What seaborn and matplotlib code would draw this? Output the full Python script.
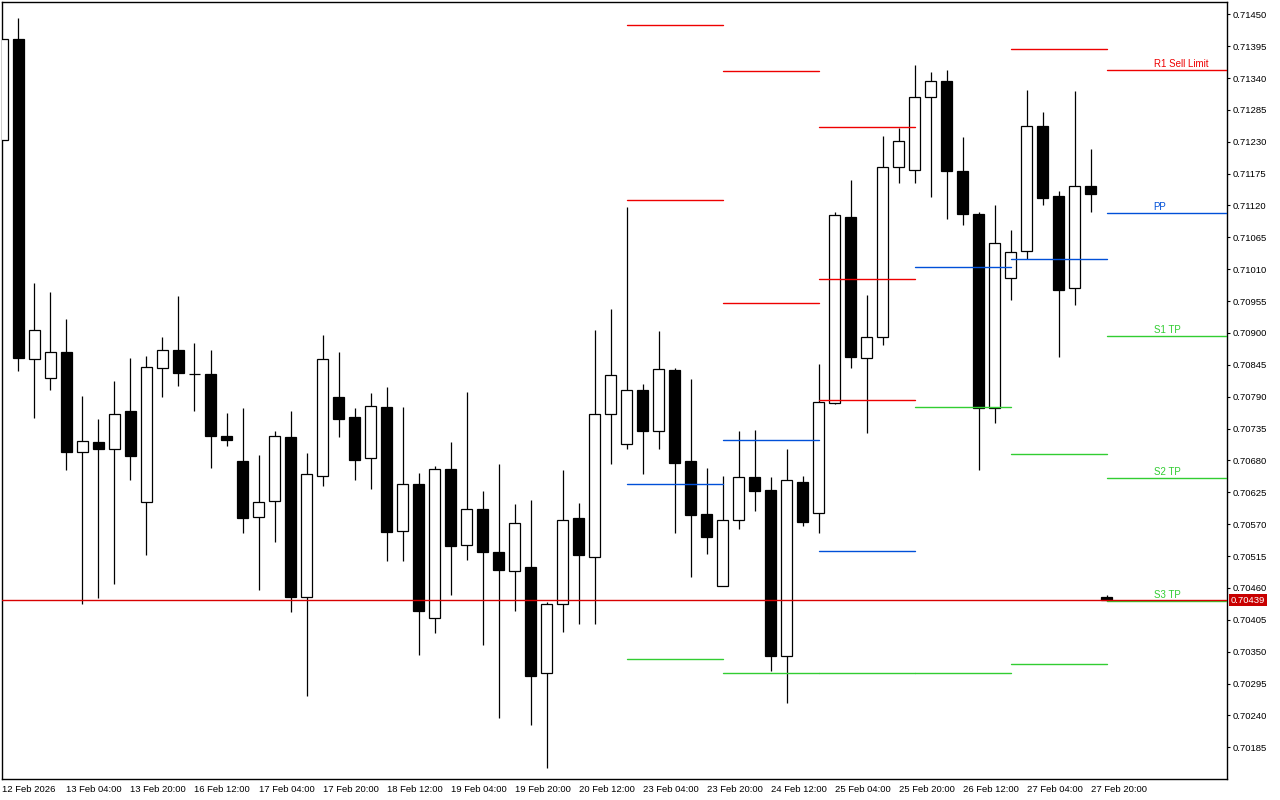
import pandas as pd
import matplotlib
matplotlib.use("Agg")
import matplotlib.pyplot as plt
import matplotlib.transforms as mtrans
import seaborn as sns

# 4H candles
opens = [0.71233, 0.71407, 0.70855, 0.70823, 0.70867, 0.70694, 0.70712, 0.70699, 0.70765, 0.70609,
         0.70840, 0.70871, 0.70830, 0.70829, 0.70722, 0.70679, 0.70582, 0.70610, 0.70720, 0.70444,
         0.70654, 0.70789, 0.70755, 0.70684, 0.70772, 0.70558, 0.70639, 0.70408, 0.70665, 0.70534,
         0.70596, 0.70522, 0.70490, 0.70496, 0.70313, 0.70432, 0.70581, 0.70514, 0.70760, 0.70708,
         0.70802, 0.70730, 0.70836, 0.70679, 0.70588, 0.70464, 0.70577, 0.70651, 0.70629, 0.70342,
         0.70643, 0.70589, 0.70779, 0.71101, 0.70856, 0.70893, 0.71186, 0.71181, 0.71308, 0.71334,
         0.71179, 0.71105, 0.70770, 0.70994, 0.71041, 0.71257, 0.71136, 0.70977, 0.71153, 0.70444]
highs = [0.71407, 0.71443, 0.70986, 0.70971, 0.70924, 0.70791, 0.70752, 0.70817, 0.70857, 0.70860,
         0.70893, 0.70963, 0.70883, 0.70871, 0.70762, 0.70771, 0.70689, 0.70731, 0.70765, 0.70693,
         0.70897, 0.70867, 0.70771, 0.70796, 0.70807, 0.70773, 0.70659, 0.70670, 0.70711, 0.70798,
         0.70627, 0.70674, 0.70605, 0.70612, 0.70436, 0.70664, 0.70607, 0.70905, 0.70941, 0.71117,
         0.70812, 0.70903, 0.70840, 0.70821, 0.70667, 0.70653, 0.70731, 0.70733, 0.70651, 0.70700,
         0.70654, 0.70846, 0.71109, 0.71164, 0.70966, 0.71240, 0.71254, 0.71363, 0.71350, 0.71354,
         0.71238, 0.71109, 0.71121, 0.71078, 0.71319, 0.71281, 0.71145, 0.71317, 0.71218, 0.70448]
lows = [0.71233, 0.70835, 0.70754, 0.70802, 0.70664, 0.70432, 0.70443, 0.70466, 0.70647, 0.70517,
        0.70790, 0.70809, 0.70766, 0.70667, 0.70705, 0.70554, 0.70457, 0.70540, 0.70419, 0.70274,
        0.70636, 0.70721, 0.70647, 0.70631, 0.70507, 0.70507, 0.70345, 0.70383, 0.70448, 0.70509,
        0.70362, 0.70236, 0.70421, 0.70224, 0.70150, 0.70384, 0.70398, 0.70397, 0.70674, 0.70700,
        0.70657, 0.70700, 0.70554, 0.70479, 0.70519, 0.70464, 0.70562, 0.70593, 0.70317, 0.70262,
        0.70566, 0.70554, 0.70777, 0.70840, 0.70728, 0.70879, 0.71159, 0.71158, 0.71135, 0.71096,
        0.71087, 0.70664, 0.70745, 0.70957, 0.71027, 0.71120, 0.70859, 0.70949, 0.71108, 0.70437]
closes = [0.71407, 0.70857, 0.70905, 0.70867, 0.70694, 0.70713, 0.70699, 0.70761, 0.70688, 0.70841,
          0.70871, 0.70831, 0.70829, 0.70723, 0.70716, 0.70581, 0.70608, 0.70722, 0.70445, 0.70657,
          0.70855, 0.70752, 0.70681, 0.70774, 0.70557, 0.70639, 0.70421, 0.70665, 0.70533, 0.70597,
          0.70522, 0.70491, 0.70572, 0.70308, 0.70432, 0.70578, 0.70516, 0.70761, 0.70827, 0.70801,
          0.70730, 0.70838, 0.70676, 0.70585, 0.70547, 0.70578, 0.70651, 0.70628, 0.70343, 0.70646,
          0.70574, 0.70780, 0.71103, 0.70859, 0.70893, 0.71186, 0.71231, 0.71308, 0.71334, 0.71180,
          0.71106, 0.70770, 0.71055, 0.71039, 0.71257, 0.71133, 0.70974, 0.71153, 0.71140, 0.70439]

time_ticks = [0, 4, 8, 12, 16, 20, 24, 28, 32, 36, 40, 44, 48, 52, 56, 60, 64, 68]
time_labels = ["12 Feb 2026", "13 Feb 04:00", "13 Feb 20:00", "16 Feb 12:00", "17 Feb 04:00",
               "17 Feb 20:00", "18 Feb 12:00", "19 Feb 04:00", "19 Feb 20:00", "20 Feb 12:00",
               "23 Feb 04:00", "23 Feb 20:00", "24 Feb 12:00", "25 Feb 04:00", "25 Feb 20:00",
               "26 Feb 12:00", "27 Feb 04:00", "27 Feb 20:00"]

price_ticks = [0.71450, 0.71395, 0.71340, 0.71285, 0.71230, 0.71175, 0.71120, 0.71065,
               0.71010, 0.70955, 0.70900, 0.70845, 0.70790, 0.70735, 0.70680, 0.70625,
               0.70570, 0.70515, 0.70460, 0.70405, 0.70350, 0.70295, 0.70240, 0.70185]
bid = 0.70439

# daily pivot segments (start bar, end bar), levels and their kind
seg_bounds = [(39, 45), (45, 51), (51, 57), (57, 63), (63, 69), (69, 76.6)]
seg_levels = [[0.71432, 0.71130, 0.70639, 0.70337],
              [0.71352, 0.70951, 0.70715, 0.70313],
              [0.71255, 0.70993, 0.70784, 0.70523, 0.70314],
              [0.71013, 0.70772, 0.70313],
              [0.71390, 0.71028, 0.70691, 0.70328],
              [0.71353, 0.71107, 0.70895, 0.70649, 0.70437]]
seg_kinds = [["R", "R", "P", "S"],
             ["R", "R", "P", "S"],
             ["R", "R", "R", "P", "S"],
             ["P", "S", "S"],
             ["R", "P", "S", "S"],
             ["R", "P", "S", "S", "S"]]
level_names = ["R1 Sell Limit", "PP", "S1 TP", "S2 TP", "S3 TP"]

kind_colors = {"R": "#ee0000", "P": "#0050d8", "S": "#32cd32"}

sns.set_theme(style="white")
plt.rcParams['font.family'] = ['Liberation Sans', 'DejaVu Sans']

fig = plt.figure(figsize=(12.8, 8), dpi=100)
ax = fig.add_axes([2 / 1280, 21 / 800, 1225 / 1280, 777 / 800])
ax.set_facecolor("white")

df = pd.DataFrame({"open": opens, "high": highs, "low": lows, "close": closes})
df["bar"] = range(len(df))
df["up"] = df["close"] >= df["open"]

# wicks, then bodies
ax.vlines(df["bar"], df["low"], df["high"], color="black", lw=0.9, zorder=2)
body = (df["close"] - df["open"]).abs().clip(lower=0.000005)
bottom = df[["open", "close"]].min(axis=1)
ax.bar(df["bar"], body, bottom=bottom, width=0.66,
       color=["white" if u else "black" for u in df["up"]],
       edgecolor="black", linewidth=0.9, zorder=3)

# pivot segments drawn with seaborn, on top of the candles
rows = []
sid = 0
for (x0, x1), levels, kinds in zip(seg_bounds, seg_levels, seg_kinds):
    for lv, kd in zip(levels, kinds):
        rows.append({"x": x0, "price": lv, "kind": kd, "seg": sid})
        rows.append({"x": x1, "price": lv, "kind": kd, "seg": sid})
        sid += 1
piv = pd.DataFrame(rows)
sns.lineplot(data=piv, x="x", y="price", hue="kind", units="seg", estimator=None,
             palette=kind_colors, legend=False, lw=1.0, sort=False, ax=ax, zorder=4)

# labels on the current day levels
for lv, kd, name in zip(seg_levels[-1], seg_kinds[-1], level_names):
    ax.text(71.95, lv + 0.00002, name, color=kind_colors[kd], fontsize=7.0,
            ha="left", va="bottom", zorder=5)

# bid line and price tag
ax.axhline(bid, color="#d80000", lw=1.0, zorder=4.5)
trans = mtrans.blended_transform_factory(ax.transAxes, ax.transData)
ax.text(1 + 4 / 1225, bid, f"{bid:.5f}", transform=trans, color="white", fontsize=6.8,
        ha="left", va="center", clip_on=False, zorder=6,
        bbox=dict(boxstyle="square,pad=0.2", fc="#c80000", ec="none"))

ax.set_xlim(-0.031, 76.53)
ax.set_ylim(0.701302, 0.714712)

ax.yaxis.tick_right()
ax.set_yticks(price_ticks)
ax.set_yticklabels([f"{p:.5f}" for p in price_ticks])
ax.set_xticks(time_ticks)
ax.set_xticklabels(time_labels, ha="left")
ax.tick_params(axis="both", which="both", direction="out", length=2.5, width=0.8,
               colors="black", labelsize=6.8, pad=1.5)
ax.tick_params(axis="x", pad=2)
ax.tick_params(axis="y", left=False, right=True)
ax.set_xlabel("")
ax.set_ylabel("")
ax.grid(False)

for sp in ax.spines.values():
    sp.set_visible(True)
    sp.set_color("black")
    sp.set_linewidth(1.0)

fig.savefig("out.png", dpi=100)
